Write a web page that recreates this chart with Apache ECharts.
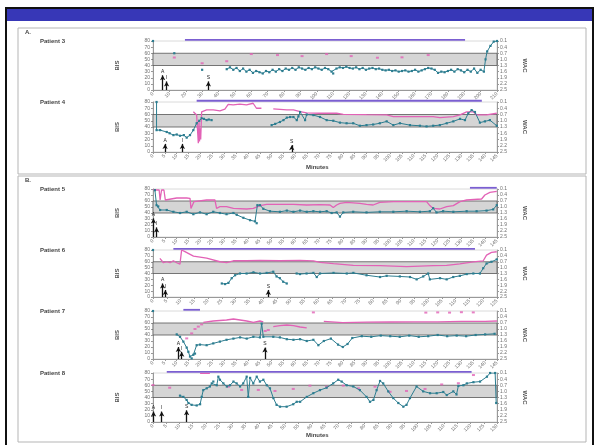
<!DOCTYPE html>
<html>
<head>
<meta charset="utf-8">
<script src="https://cdn.jsdelivr.net/npm/echarts@6/dist/echarts.min.js"></script>
<style>
  html, body { margin: 0; padding: 0; background: #fff; }
  #main { width: 596px; height: 445px; }
</style>
</head>
<body>
<div id="main"></div>
<script>
// ---- data: [minute, value]; '-' breaks a line ----
var patientNames = ['Patient 3', 'Patient 4', 'Patient 5', 'Patient 6', 'Patient 7', 'Patient 8'];

var p3Bis = [[0,80],[1,'-'],[13,60],[14,'-'],[30,33],[31,'-'],
  [45,34],[47,37],[49,33],[51,36],[53,31],[55,35],[57,30],[59,33],[61,28],[63,31],[65,29],[67,27],[69,31],[71,29],
  [73,33],[75,30],[77,34],[79,31],[81,35],[83,33],[85,36],[87,33],[89,37],[91,35],[93,33],[95,36],[97,34],[99,37],
  [101,35],[103,33],[105,36],[107,34],[109,30],[110,27],[112,35],[114,37],[116,36],[118,38],[120,36],[122,35],[124,37],
  [126,34],[128,36],[130,33],[132,35],[134,36],[136,34],[138,35],[140,33],[142,32],[144,33],[146,31],[148,32],[150,30],
  [152,31],[154,32],[156,30],[158,31],[160,33],[162,30],[164,32],[166,34],[168,36],[170,35],[172,33],[174,28],[176,30],
  [178,29],[180,31],[182,33],[184,30],[186,34],[188,32],[190,29],[192,33],[194,30],[196,35],[198,28],[200,33],[202,30],
  [203,50],[204,63],[206,72],[208,79],[210,80]];
var p3WacLine = [];
var p3WacDots = [[13,0.91],[30,1.19],[45,1.09],[60,0.74],[76,0.79],[91,0.84],[106,0.74],[121,0.84],[137,0.92],[152,0.90],[168,0.79]];
var p3Arrows = [[5.9,24,'A'],[8.3,14,'I'],[33.8,14,'S']];
var p3Purple = [19.5,190.5];

var p4Bis = [[1.5,80],[1.5,35],[3,35],[5.8,32],[7,30],[8.6,27],[10,28],[11.4,26],[13,27],[14.2,23],[15.6,27],[17,35],
  [18.4,46],[19.5,50],[20.5,54],[21.5,53],[22.6,51],[23.5,52],[24.7,51],[25,'-'],
  [50,43],[51.5,45],[53.5,48],[55,51],[56.4,55],[57.8,56],[59.2,56],[60.6,51],[61.3,57],[62,64],[64.1,51],[64.8,60],
  [67.6,59],[70.4,56],[73.2,51],[76,50],[78.8,47],[81.6,46],[84.4,46],[87.2,42],[90,43],[92.8,44],[95.6,46],[98.5,49],
  [101.3,43],[104.1,46],[108.3,43],[112.5,42],[115.3,41],[118.1,42],[120.9,43],[123.8,46],[126.6,49],[129.4,53],[131.5,51],
  [132.9,62],[134.3,67],[135.7,64],[137.8,47],[139.9,49],[142,51],[144.9,42]];
var p4WacLine = [[17,0.57],[18.4,0.72],[19.1,2.08],[19.4,1.0],[19.6,2.0],[19.8,1.36],[20.1,1.9],[20.5,0.57],[22.6,0.48],
  [25.4,0.48],[28.2,0.53],[30.3,0.44],[31.7,0.21],[33.8,0.24],[36.6,0.2],[39.4,0.24],[42.2,0.16],[43.6,0.4],[45.7,0.4],[47,'-'],
  [50.7,0.43],[56.4,0.48],[59.2,0.48],[62,0.56],[64.8,0.62],[70,0.64],[77.4,0.64],[80.2,0.69],[90,0.71],[98.5,0.72],
  [101.3,0.8],[110,0.8],[118.1,0.8],[120.9,0.85],[126.6,0.8],[129.4,0.72],[132.2,0.57],[132.9,0.48],[135,0.57],
  [136.4,0.72],[140.6,0.72],[144.9,0.64]];
var p4WacDots = [];
var p4Arrows = [[5.1,13,'A'],[12.4,13,'I'],[58.5,11,'S']];
var p4Purple = [18.4,138.6];

var p5Bis = [[0.8,78],[1.5,53],[2.2,51],[3,45],[5.8,45],[8.6,42],[11.4,40],[14.2,42],[17,38],[19.8,41],[22.6,38],
  [25.4,42],[28.2,40],[31,38],[33.9,40],[35.3,37],[38.1,32],[40.9,28],[43,26],[43.7,23],[44,53],[45.1,53],[46.5,47],
  [49.3,43],[53.5,42],[56.4,44],[59.2,42],[62,44],[64.8,42],[67.6,43],[70.4,42],[73.2,43],[75.3,40],[77.4,41],[78.8,34],
  [80.2,41],[84.4,42],[90,41],[95.6,42],[101.3,42],[106.9,43],[112.5,42],[116.7,43],[118.1,48],[119.5,41],[122.3,43],
  [126.6,42],[132.2,43],[136.4,43],[140.6,44],[143.4,46],[144.9,53]];
var p5WacLine = [[0,0.13],[1.5,0.15],[2.6,0.15],[3,0.65],[3.6,0.15],[4.6,0.15],[5.2,0.65],[5.8,0.57],[10,0.55],[14.2,0.55],
  [15.6,0.57],[16,1.07],[16.8,1.15],[17.3,0.73],[17.9,0.65],[22.6,0.65],[26.1,0.65],[26.8,1.07],[28.2,0.98],[31,0.98],
  [33.9,1.07],[39.5,1.1],[42.3,1.07],[45.1,0.93],[47.9,0.87],[53.5,0.87],[59.2,0.87],[64.8,0.9],[70.4,0.88],[74.6,0.9],
  [76,1.03],[77.4,0.9],[78.8,0.82],[81.6,0.77],[87.2,0.82],[90,0.87],[92.8,0.9],[95.6,0.77],[101.3,0.73],[115.3,0.73],
  [116.7,0.93],[118.1,1.07],[120.9,1.1],[123.8,0.98],[126.6,0.93],[129.4,0.73],[132.2,0.65],[138.5,0.6],[139.9,0.4],
  [142,0.27],[144.9,0.22]];
var p5WacDots = [];
var p5Arrows = [[0.2,31,'A'],[1.5,16,'I']];
var p5Purple = [133.6,144.9];

var p6Bis = [[0,80],[1,'-'],[25,23],[26.2,22],[27.4,24],[28.6,32],[29.8,37],[31.6,40],[34,40],[36.5,42],[38.9,40],
  [41.3,41],[43.7,43],[44.9,35],[46.1,32],[47.3,26],[48.6,23],[49,'-'],[52.2,40],[53.4,39],[55.8,40],[58.3,41],[59.5,34],
  [60.7,40],[65.6,41],[70.4,40],[72.8,41],[77.6,37],[82.5,34],[84.9,36],[89.7,35],[93.4,34],[95.8,30],[98.2,35],[100,40],
  [100.6,30],[104.3,32],[106.7,30],[109.1,34],[111.5,36],[114,39],[116.4,40],[118.8,40],[120,49],[121.2,57],[123,60],[124.9,64]];
var p6WacLine = [[2.5,0.53],[3.8,0.75],[5,0.7],[6.2,0.75],[7.4,0.65],[8.6,0.75],[9.8,0.82],[10.4,0.1],[11.6,0.18],
  [14.7,0.41],[19.5,0.52],[24.3,0.7],[26.8,0.75],[29.2,0.65],[34,0.65],[38.9,0.63],[46.1,0.65],[53.4,0.63],[58.3,0.66],
  [60.7,0.73],[65.6,0.8],[72.8,0.88],[82.5,0.9],[92.2,0.95],[101.8,0.9],[106.7,0.88],[111.5,0.81],[116.4,0.71],[120,0.65],
  [121.2,0.36],[123,0.22],[124.9,0.19]];
var p6WacDots = [];
var p6Arrows = [[3.5,23,'A'],[4.5,12,'I'],[41.9,12,'S']];
var p6Purple = [7.4,117];

var p7Bis = [[0,80],[1,'-'],[10,41],[11.4,37],[12.8,29],[14.2,19],[14.9,12],[15.6,4],[16.3,1],[17,7],[17.7,9],[18.4,23],
  [19.8,24],[22.6,23],[25.4,26],[28.2,29],[31,32],[33.9,34],[36.7,36],[39.5,34],[42.3,37],[45.1,36],[45.8,59],[46.5,37],
  [50.7,37],[53.5,36],[56.4,33],[59.2,32],[62,33],[64.8,30],[67.6,32],[69.7,23],[72,30],[75,34],[78,24],[80,20],[82,25],
  [84,35],[88,38],[92,37],[96,39],[100,38],[104,37],[108,39],[112,37],[116,38],[120,40],[124,38],[128,39],[132,38],
  [136,40],[140,41],[144,42]];
var p7WacLine = [[21.2,0.67],[25.4,0.6],[31,0.55],[33.9,0.5],[36.7,0.55],[39.5,0.6],[42.3,0.67],[45.1,0.6],[46.5,0.64],[47,'-'],
  [50.7,0.88],[53.5,0.83],[56.4,0.8],[59.2,0.83],[62,0.9],[64.8,0.94],[66,'-'],
  [72,0.62],[80,0.68],[90,0.66],[100,0.65],[110,0.64],[120,0.64],[130,0.62],[140,0.62],[145,0.6]];
var p7WacDots = [[14.2,1.47],[16.3,1.22],[17.7,1.0],[19.1,0.88],[20.5,0.77],[47.3,1.1],[48.6,1.05],[67.6,0.17],
  [115,0.18],[120,0.17],[125,0.18],[130,0.16],[135,0.17]];
var p7Arrows = [[10.7,20,'A'],[12.1,12,'I'],[47.2,19,'S']];
var p7Purple = [12.8,19.8];

var p8Bis = [[10.2,43],[11.5,41],[12.7,36],[13.4,31],[14.6,28],[16.5,27],[17.8,29],[18.4,41],[19,52],[20.3,55],[21.5,58],
  [22.2,63],[22.8,66],[24.1,60],[24.7,74],[25.3,69],[26.6,63],[27.9,58],[29.1,60],[30.4,66],[31.6,63],[32.9,58],[34.1,63],
  [35.4,74],[36,41],[36.7,72],[37.9,63],[39.2,74],[40.4,66],[41.7,69],[43,60],[44.2,55],[45.5,39],[46.7,28],[48,25],
  [50.5,25],[53,29],[54.3,33],[55.6,33],[58.1,41],[60.6,47],[63.1,52],[65.6,56],[68.1,63],[70,69],[71.3,66],[73.2,60],
  [75.7,58],[78.2,52],[80.7,41],[82,33],[83.3,36],[84.5,52],[85.8,67],[87,63],[88.9,50],[90.8,39],[92.7,31],[94.6,25],
  [95.8,28],[97.1,39],[99.6,58],[102.1,50],[104.7,47],[107.2,47],[109.7,49],[111,44],[113.5,50],[114.7,45],[115.4,59],
  [117.3,60],[118.6,63],[121.1,65],[123.6,66],[126.2,74],[127.4,80],[129.3,80],[129.7,31]];
var p8WacLine = [[17.8,0.12],[21.5,0.12]];
var p8WacDots = [[0,0.69],[6.3,0.82],[28.5,0.77],[33.5,0.93],[39.8,0.93],[46.1,0.98],[53,0.88],[59.3,0.72],[65.6,0.77],
  [71.9,0.72],[77.6,0.85],[83.9,0.77],[89.6,1.02],[95.8,0.98],[102.8,0.88],[109.1,0.66],[115.4,0.6],[121.1,0.2]];
var p8Arrows = [[0.2,17,'A'],[3.3,17,'I'],[12.7,19,'S']];
var p8Purple = [5.2,120.4];

// ---- layout of the six panels ----
var panels = [
  {top: 41,  height: 49, xMax: 210, xStep: 10, bis: p3Bis, wacLine: p3WacLine, wacDots: p3WacDots, arrows: p3Arrows, purple: p3Purple},
  {top: 102, height: 50, xMax: 145, xStep: 5,  bis: p4Bis, wacLine: p4WacLine, wacDots: p4WacDots, arrows: p4Arrows, purple: p4Purple},
  {top: 189, height: 48, xMax: 145, xStep: 5,  bis: p5Bis, wacLine: p5WacLine, wacDots: p5WacDots, arrows: p5Arrows, purple: p5Purple},
  {top: 250, height: 47, xMax: 125, xStep: 5,  bis: p6Bis, wacLine: p6WacLine, wacDots: p6WacDots, arrows: p6Arrows, purple: p6Purple},
  {top: 311, height: 48, xMax: 145, xStep: 5,  bis: p7Bis, wacLine: p7WacLine, wacDots: p7WacDots, arrows: p7Arrows, purple: p7Purple},
  {top: 373, height: 49, xMax: 130, xStep: 5,  bis: p8Bis, wacLine: p8WacLine, wacDots: p8WacDots, arrows: p8Arrows, purple: p8Purple}
];

var myChart = echarts.init(document.getElementById('main'));
var grid = [], xAxis = [], yAxis = [], series = [];
var labelStyle = {fontSize: 5, color: '#6f6f6f', fontFamily: 'Liberation Sans'};

panels.forEach(function (p, i) {
  grid.push({left: 153, right: 99, top: p.top, height: p.height, show: true, borderColor: '#d0d0d0', borderWidth: 0.8});
  xAxis.push({
    type: 'value', gridIndex: i, min: 0, max: p.xMax, interval: p.xStep,
    axisLine: {lineStyle: {color: '#999'}},
    axisTick: {length: 2, lineStyle: {color: '#999'}},
    splitLine: {show: false},
    axisLabel: Object.assign({rotate: 45, margin: 3}, labelStyle)
  });
  yAxis.push({
    type: 'value', gridIndex: i, min: 0, max: 80, interval: 10,
    name: 'BIS', nameLocation: 'middle', nameGap: 33, nameRotate: 90,
    nameTextStyle: {fontSize: 6, fontWeight: 'bold', color: '#555'},
    axisLine: {show: true, lineStyle: {color: '#999'}},
    axisTick: {show: true, length: 2, lineStyle: {color: '#999'}},
    splitLine: {show: false},
    axisLabel: Object.assign({margin: 3}, labelStyle)
  });
  yAxis.push({
    type: 'value', gridIndex: i, position: 'right', inverse: true, min: 0.1, max: 2.5, interval: 0.3,
    name: 'WAC', nameLocation: 'middle', nameGap: 25, nameRotate: -90,
    nameTextStyle: {fontSize: 6, fontWeight: 'bold', color: '#555'},
    axisLine: {show: true, lineStyle: {color: '#999'}},
    axisTick: {show: true, length: 2, lineStyle: {color: '#999'}},
    splitLine: {show: false},
    axisLabel: Object.assign({margin: 3, formatter: function (v) { return v.toFixed(1); }}, labelStyle)
  });

  // purple bar above the plot
  series.push({
    type: 'line', xAxisIndex: i, yAxisIndex: i * 2, clip: false, symbol: 'none', silent: true,
    lineStyle: {color: '#7b5fd1', width: 1.8},
    data: [[p.purple[0], 82], [p.purple[1], 82]]
  });
  // WAC (pink)
  series.push({
    type: 'line', xAxisIndex: i, yAxisIndex: i * 2 + 1, symbol: 'none', silent: true,
    lineStyle: {color: '#e262b6', width: 1.3},
    data: p.wacLine
  });
  series.push({
    type: 'scatter', xAxisIndex: i, yAxisIndex: i * 2 + 1, symbol: 'rect', symbolSize: [3, 2], silent: true,
    itemStyle: {color: '#e262b6'},
    data: p.wacDots
  });
  // BIS (teal) with target band and event arrows
  series.push({
    type: 'line', xAxisIndex: i, yAxisIndex: i * 2, symbol: 'rect', symbolSize: 2.2,
    showSymbol: true, showAllSymbol: true, silent: true,
    lineStyle: {color: '#2c7d90', width: 1},
    itemStyle: {color: '#2c7d90'},
    data: p.bis,
    markArea: {
      silent: true,
      itemStyle: {color: '#d5d5d5', borderColor: '#555', borderWidth: 0.8},
      data: [[{yAxis: 40}, {yAxis: 60}]]
    },
    markLine: {
      silent: true, symbol: ['none', 'arrow'], symbolSize: [4, 5], animation: false,
      lineStyle: {color: '#111', width: 1.3, type: 'solid'},
      label: {show: true, position: 'end', formatter: '{b}', fontSize: 5, color: '#222', distance: 1},
      data: p.arrows.map(function (a) {
        return [{coord: [a[0], 0], name: a[2]}, {coord: [a[0], a[1]]}];
      })
    }
  });
});

var textStyle = {fontSize: 6, fontWeight: 'bold', fill: '#444', fontFamily: 'Liberation Sans'};
var graphic = [
  {type: 'rect', shape: {x: 6, y: 8, width: 587, height: 440}, style: {fill: 'none', stroke: '#111', lineWidth: 2}, z: 0},
  {type: 'rect', shape: {x: 7, y: 9, width: 585, height: 12}, style: {fill: '#3737b7'}},
  {type: 'rect', shape: {x: 18, y: 28, width: 568, height: 146}, style: {fill: 'none', stroke: '#b5b5b5', lineWidth: 1}},
  {type: 'rect', shape: {x: 18, y: 176, width: 568, height: 266}, style: {fill: 'none', stroke: '#b5b5b5', lineWidth: 1}},
  {type: 'text', left: 25, top: 29, style: Object.assign({text: 'A.'}, textStyle)},
  {type: 'text', left: 25, top: 177, style: Object.assign({text: 'B.'}, textStyle)},
  {type: 'text', left: 306, top: 164, style: Object.assign({text: 'Minutes'}, textStyle)},
  {type: 'text', left: 306, top: 432, style: Object.assign({text: 'Minutes'}, textStyle)}
];
panels.forEach(function (p, i) {
  graphic.push({type: 'text', left: 40, top: p.top - 3, style: Object.assign({text: patientNames[i]}, textStyle)});
});

myChart.setOption({
  animation: false,
  backgroundColor: '#fff',
  graphic: graphic,
  grid: grid,
  xAxis: xAxis,
  yAxis: yAxis,
  series: series
});
</script>
</body>
</html>
